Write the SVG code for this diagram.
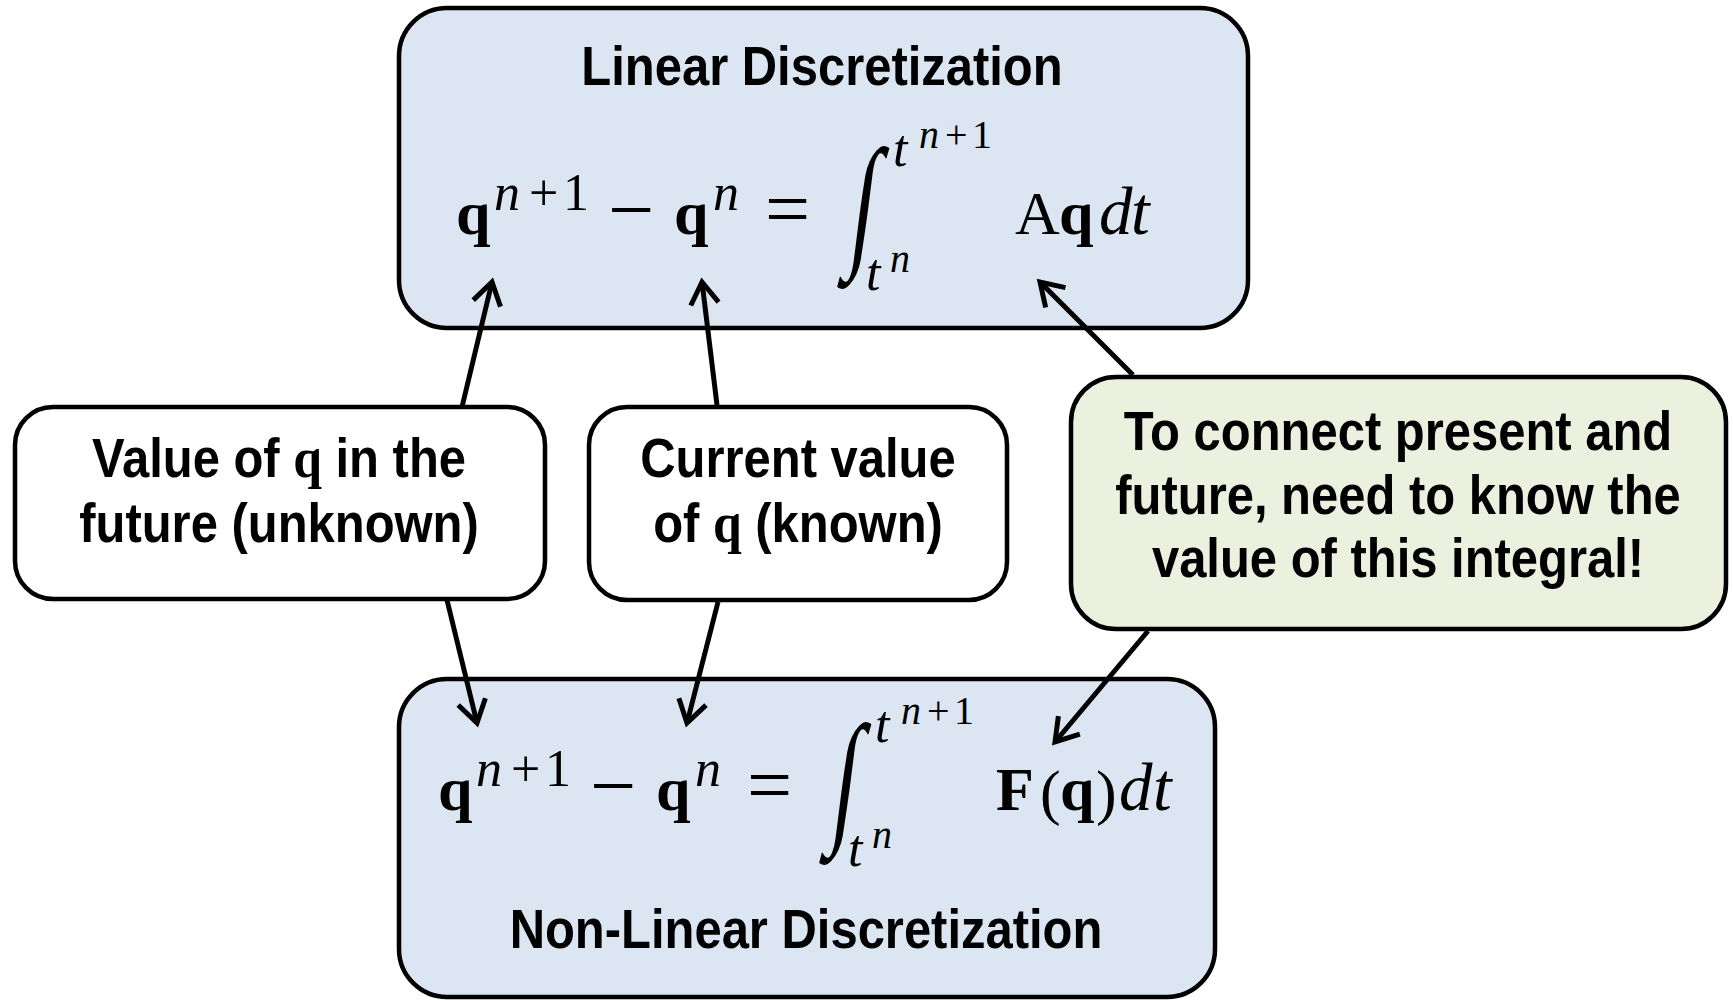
<svg xmlns="http://www.w3.org/2000/svg" width="1733" height="1000" viewBox="0 0 1733 1000">
  <defs>
    <style>
      .box{stroke:#000;stroke-width:4.5}
      .eqbox{fill:#dce6f2}
      .note{fill:#ffffff}
      .hint{fill:#ebf0df}
      .lbl{font-family:"Liberation Sans",Arial,sans-serif;font-weight:bold;font-size:55px;fill:#000}
      .sq{font-family:"Liberation Serif","Times New Roman",serif;font-weight:bold;font-size:58px}
      .m{font-family:"Liberation Serif","Times New Roman",serif;font-size:62px;fill:#000}
      .b{font-weight:bold}
      .i{font-style:italic}
      .s{font-size:52px}
      .ss{font-size:40px}
      .op{font-size:82px}
      .eq{font-size:80px}
      .dt{font-size:67px}
      .arrow{stroke:#000;stroke-width:5;fill:none;marker-end:url(#head)}
    </style>
    <marker id="head" markerUnits="userSpaceOnUse" markerWidth="44" markerHeight="44" viewBox="-32 -22 44 44" refX="0" refY="0" orient="auto">
      <path d="M-22,-14 L0,0 L-22,14" fill="none" stroke="#000" stroke-width="5" stroke-linejoin="miter"/>
    </marker>
  </defs>

  <!-- linear discretization box -->
  <g id="linear">
    <rect class="box eqbox" x="399" y="8" width="849" height="320" rx="48"/>
    <text class="lbl" text-anchor="middle" transform="matrix(0.89 0 0 1 822 85)">Linear Discretization</text>
    <g id="linear-lhs">
      <text class="m b" x="456" y="234">q</text>
      <text class="m i s" x="494" y="210">n</text>
      <text class="m s" x="529" y="210">+</text>
      <text class="m s" x="563" y="210">1</text>
      <text class="m op" x="608" y="237">−</text>
      <text class="m b" x="674" y="234">q</text>
      <text class="m i s" x="713" y="210">n</text>
      <text class="m eq" x="765" y="236">=</text>
      <text class="m" font-size="140" text-anchor="middle" transform="translate(859 250) scale(1.45 2.35) skewX(-12)">∫</text>
      <text class="m i s" x="893" y="166">t</text>
      <text class="m i ss" x="919" y="148">n</text>
      <text class="m ss" x="945" y="148">+</text>
      <text class="m ss" x="972" y="148">1</text>
      <text class="m i s" x="866" y="290">t</text>
      <text class="m i ss" x="890" y="272">n</text>
    </g>
    <text class="m" x="1015" y="234">A</text>
    <text class="m b" x="1059" y="234">q</text>
    <text class="m i dt" x="1099" y="234">d</text>
    <text class="m i dt" x="1131" y="234">t</text>
  </g>

  <!-- non-linear discretization box -->
  <g id="nonlinear">
    <rect class="box eqbox" x="399" y="679" width="816" height="318" rx="48"/>
    <text class="lbl" text-anchor="middle" transform="matrix(0.89 0 0 1 806 948)">Non-Linear Discretization</text>
    <g id="nonlinear-lhs" transform="translate(-18 576)">
      <text class="m b" x="456" y="234">q</text>
      <text class="m i s" x="494" y="210">n</text>
      <text class="m s" x="529" y="210">+</text>
      <text class="m s" x="563" y="210">1</text>
      <text class="m op" x="608" y="237">−</text>
      <text class="m b" x="674" y="234">q</text>
      <text class="m i s" x="713" y="210">n</text>
      <text class="m eq" x="765" y="236">=</text>
      <text class="m" font-size="140" text-anchor="middle" transform="translate(859 250) scale(1.45 2.35) skewX(-12)">∫</text>
      <text class="m i s" x="893" y="166">t</text>
      <text class="m i ss" x="919" y="148">n</text>
      <text class="m ss" x="945" y="148">+</text>
      <text class="m ss" x="972" y="148">1</text>
      <text class="m i s" x="866" y="290">t</text>
      <text class="m i ss" x="890" y="272">n</text>
    </g>
    <text class="m b" x="996" y="810">F</text>
    <text class="m" font-size="72" x="1040" y="813">(</text>
    <text class="m b" x="1060" y="810">q</text>
    <text class="m" font-size="72" x="1096" y="813">)</text>
    <text class="m i dt" x="1119" y="810">d</text>
    <text class="m i dt" x="1153" y="810">t</text>
  </g>

  <!-- future value note -->
  <g id="future">
    <rect class="box note" x="15" y="407" width="530" height="192" rx="38"/>
    <text class="lbl" text-anchor="middle" transform="matrix(0.89 0 0 1 279 477)">Value of <tspan class="sq">q</tspan> in the</text>
    <text class="lbl" text-anchor="middle" transform="matrix(0.89 0 0 1 279 542)">future (unknown)</text>
  </g>

  <!-- current value note -->
  <g id="current">
    <rect class="box note" x="589" y="407" width="418" height="193" rx="38"/>
    <text class="lbl" text-anchor="middle" transform="matrix(0.89 0 0 1 798 477)">Current value</text>
    <text class="lbl" text-anchor="middle" transform="matrix(0.89 0 0 1 798 542)">of <tspan class="sq">q</tspan> (known)</text>
  </g>

  <!-- integral note -->
  <g id="integral">
    <rect class="box hint" x="1071" y="377" width="655" height="252" rx="45"/>
    <text class="lbl" text-anchor="middle" transform="matrix(0.89 0 0 1 1398 450)">To connect present and</text>
    <text class="lbl" text-anchor="middle" transform="matrix(0.89 0 0 1 1398 514)">future, need to know the</text>
    <text class="lbl" text-anchor="middle" transform="matrix(0.89 0 0 1 1398 577)">value of this integral!</text>
  </g>

  <!-- connectors -->
  <g id="connectors">
    <line class="arrow" x1="462" y1="407" x2="492" y2="282"/>
    <line class="arrow" x1="717" y1="405" x2="702" y2="282"/>
    <line class="arrow" x1="447" y1="600" x2="477" y2="723"/>
    <line class="arrow" x1="718" y1="602" x2="687" y2="723"/>
    <line class="arrow" x1="1133" y1="375" x2="1040" y2="282"/>
    <line class="arrow" x1="1148" y1="631" x2="1055" y2="742"/>
  </g>
</svg>
